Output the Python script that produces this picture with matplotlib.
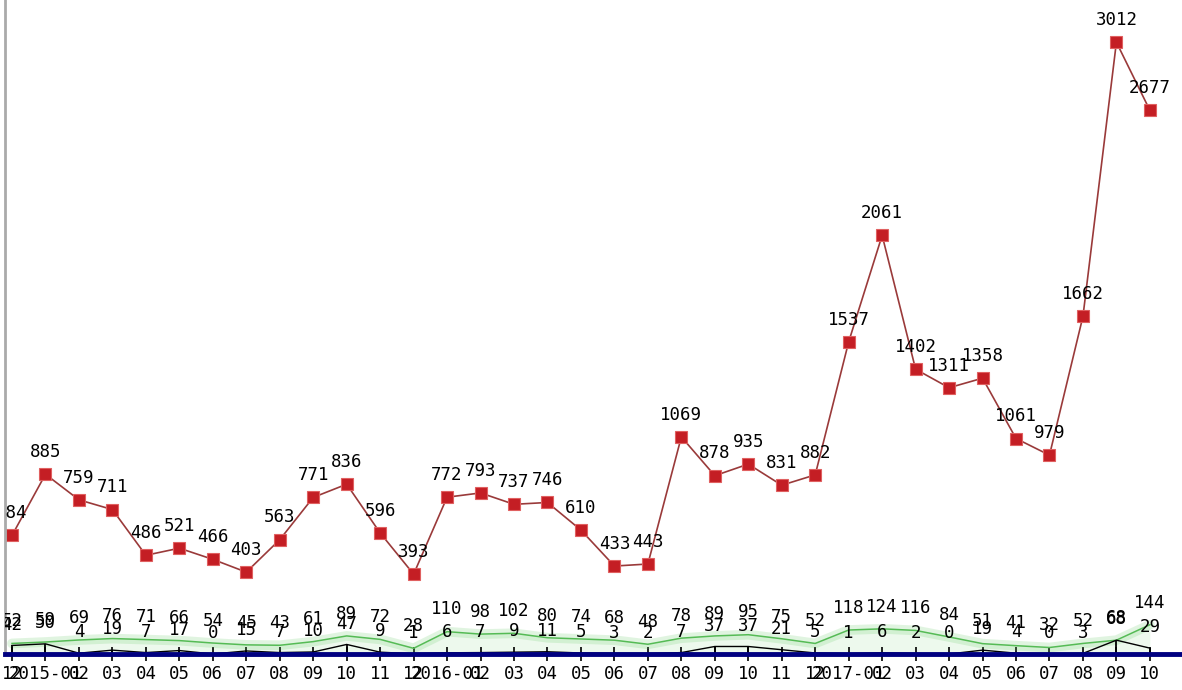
import matplotlib.pyplot as plt

# monthly values, 2014-12 .. 2017-10
months = ['2014-12',
          '2015-01', '2015-02', '2015-03', '2015-04', '2015-05', '2015-06',
          '2015-07', '2015-08', '2015-09', '2015-10', '2015-11', '2015-12',
          '2016-01', '2016-02', '2016-03', '2016-04', '2016-05', '2016-06',
          '2016-07', '2016-08', '2016-09', '2016-10', '2016-11', '2016-12',
          '2017-01', '2017-02', '2017-03', '2017-04', '2017-05', '2017-06',
          '2017-07', '2017-08', '2017-09', '2017-10']

red_vals = [584,
            885, 759, 711, 486, 521, 466, 403, 563, 771, 836, 596, 393,
            772, 793, 737, 746, 610, 433, 443, 1069, 878, 935, 831, 882,
            1537, 2061, 1402, 1311, 1358, 1061, 979, 1662, 3012, 2677]

green_vals = [52,
              59, 69, 76, 71, 66, 54, 45, 43, 61, 89, 72, 28,
              110, 98, 102, 80, 74, 68, 48, 78, 89, 95, 75, 52,
              118, 124, 116, 84, 51, 41, 32, 52, 68, 144]

dark_vals = [42,
             50, 4, 19, 7, 17, 0, 15, 7, 10, 47, 9, 1,
             6, 7, 9, 11, 5, 3, 2, 7, 37, 37, 21, 5,
             1, 6, 2, 0, 19, 4, 0, 3, 68, 29]

tick_labels = [m if m.endswith('-01') else m[-2:] for m in months]

mono = 'DejaVu Sans Mono'
fs = 12.5
x = list(range(len(months)))

fig = plt.figure(figsize=(11.82, 6.90), dpi=100)
ax = fig.add_axes([5 / 1182, 36 / 690, 1 - 5 / 1182, 654 / 690])

# linea verde con halo suave
ax.fill_between(x, 0, green_vals, color='#ccf0cc', alpha=0.35, lw=0)
ax.plot(x, green_vals, color='#66cc66', lw=7, alpha=0.2, solid_capstyle='round')
ax.plot(x, green_vals, color='#55bb55', lw=1.1)

# serie oscura con lineas verticales
ax.vlines(x, -14, dark_vals, color='black', lw=1.3, clip_on=False)
ax.plot(x, dark_vals, color='black', lw=1.0)

# serie principal
ax.plot(x, red_vals, color='#9a3a3a', lw=1.2, marker='s', markersize=9,
        markerfacecolor='#c41e24', markeredgecolor='#e06060', markeredgewidth=0.8)

for xi, v in zip(x, red_vals):
    ax.annotate(str(v), (xi, v), xytext=(0, 16), textcoords='offset points',
                ha='center', va='center', fontsize=fs, family=mono, clip_on=True)
for xi, v in zip(x, green_vals):
    ax.annotate(str(v), (xi, v), xytext=(0, 16), textcoords='offset points',
                ha='center', va='center', fontsize=fs, family=mono, clip_on=True)
for xi, v in zip(x, dark_vals):
    ax.annotate(str(v), (xi, v), xytext=(0, 15), textcoords='offset points',
                ha='center', va='center', fontsize=fs, family=mono, clip_on=True)

ax.set_xlim(-0.21, 34.96)
ax.set_ylim(0, 3220)
ax.set_xticks(x)
ax.set_xticklabels(tick_labels, family=mono, fontsize=fs)
ax.tick_params(axis='x', direction='inout', length=10, width=1.2, pad=3)
ax.set_yticks([])

for s in ['top', 'right']:
    ax.spines[s].set_visible(False)
ax.spines['left'].set_color('#aaaaaa')
ax.spines['left'].set_linewidth(2)
ax.spines['bottom'].set_color('#000080')
ax.spines['bottom'].set_linewidth(3.5)

fig.savefig('out.png', dpi=100)
